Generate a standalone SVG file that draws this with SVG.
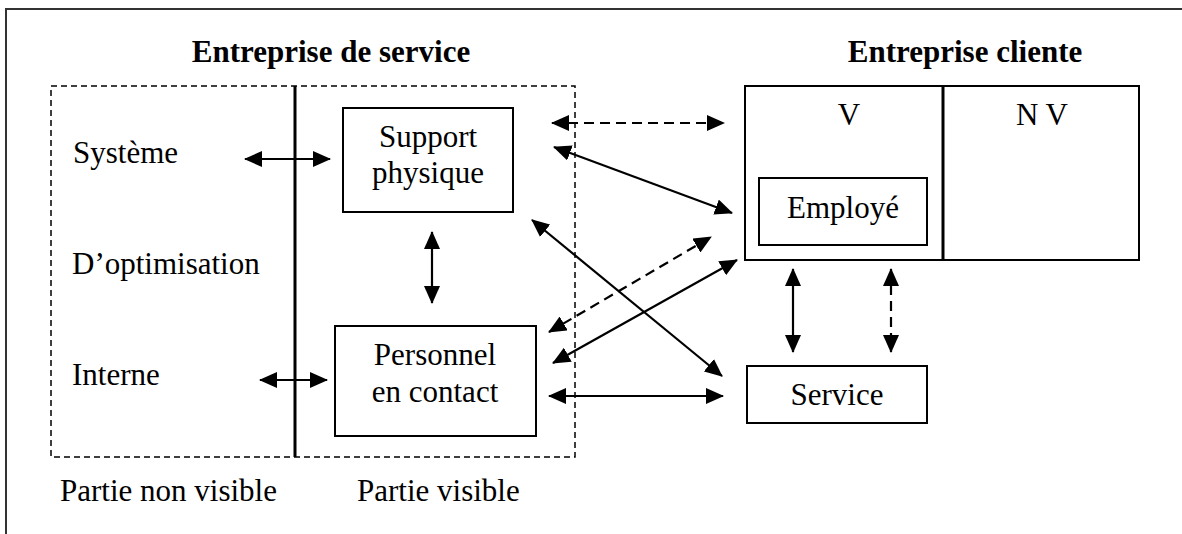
<svg xmlns="http://www.w3.org/2000/svg" width="1182" height="534" viewBox="0 0 1182 534">
<style>
text{font-family:"Liberation Serif","Times New Roman",serif;font-size:31px;fill:#000}
.t{font-weight:bold}
.m{text-anchor:middle}
.box{fill:none;stroke:#000;stroke-width:2}
.c{stroke:#000;stroke-width:2.2;fill:none;marker-start:url(#ah);marker-end:url(#ah)}
.d{stroke-dasharray:10 6}
</style>
<defs>
<marker id="ah" viewBox="0 0 18 16" markerUnits="userSpaceOnUse" markerWidth="18" markerHeight="16" refX="17" refY="8" orient="auto-start-reverse">
<path d="M0,0 L18,8 L0,16 z" fill="#000"/>
</marker>
</defs>
<rect width="1182" height="534" fill="#fff"/>
<g id="frame">
<path d="M6,534 V9 H1182" fill="none" stroke="#333" stroke-width="2"/>
</g>
<g id="entreprise-service">
<text class="t m" x="331" y="62">Entreprise de service</text>
<rect x="51" y="86" width="524" height="371" fill="none" stroke="#000" stroke-width="1.5" stroke-dasharray="6 4"/>
<line x1="295" y1="86" x2="295" y2="457" stroke="#000" stroke-width="3"/>
<text x="73" y="163">Système</text>
<text x="72" y="274">D’optimisation</text>
<text x="72" y="385">Interne</text>
<text x="60" y="501">Partie non visible</text>
<text x="357" y="501">Partie visible</text>
</g>
<g id="support-physique">
<rect class="box" x="343" y="108" width="170" height="104"/>
<text class="m" x="428" y="147">Support</text>
<text class="m" x="428" y="183">physique</text>
</g>
<g id="personnel-contact">
<rect class="box" x="335" y="326" width="201" height="110"/>
<text class="m" x="435" y="365">Personnel</text>
<text class="m" x="435" y="402">en contact</text>
</g>
<g id="entreprise-cliente">
<text class="t m" x="965" y="62">Entreprise cliente</text>
<rect class="box" x="745" y="86" width="394" height="174"/>
<line x1="943" y1="86" x2="943" y2="260" stroke="#000" stroke-width="3"/>
<text class="m" x="849" y="125">V</text>
<text class="m" x="1042" y="125">N V</text>
</g>
<g id="employe">
<rect class="box" x="759" y="178" width="168" height="67"/>
<text class="m" x="843" y="218">Employé</text>
</g>
<g id="service">
<rect class="box" x="747" y="366" width="180" height="57"/>
<text class="m" x="837" y="405">Service</text>
</g>
<g id="connectors">
<line class="c" x1="245" y1="159" x2="330" y2="159"/>
<line class="c" x1="260" y1="380" x2="327" y2="380"/>
<line class="c" x1="432" y1="232" x2="432" y2="303"/>
<line class="c d" x1="552" y1="123" x2="724" y2="123"/>
<line class="c" x1="554" y1="147" x2="732" y2="213"/>
<line class="c" x1="532" y1="220" x2="722" y2="376"/>
<line class="c d" x1="549" y1="332" x2="711" y2="237"/>
<line class="c" x1="553" y1="363" x2="737" y2="260"/>
<line class="c" x1="549" y1="396" x2="723" y2="396"/>
<line class="c" x1="793" y1="269" x2="793" y2="352"/>
<line class="c d" x1="891" y1="269" x2="891" y2="352"/>
</g>
</svg>
